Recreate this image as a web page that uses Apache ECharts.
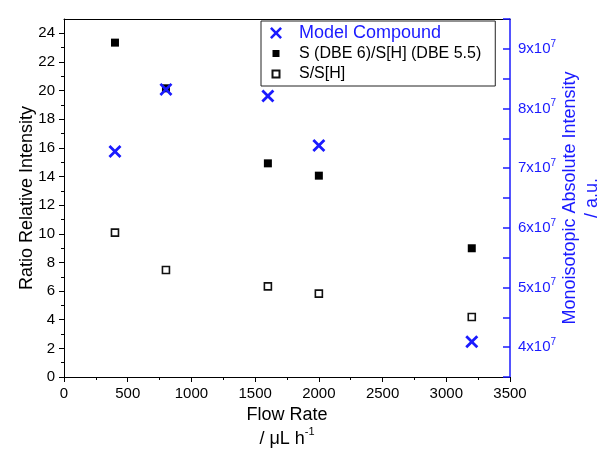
<!DOCTYPE html>
<html>
<head>
<meta charset="utf-8">
<script src="https://cdn.jsdelivr.net/npm/echarts@6/dist/echarts.min.js"></script>
<style>
  html, body { margin: 0; padding: 0; background: #fff; }
  #chart { width: 602px; height: 454px; }
</style>
</head>
<body>
<div id="chart"></div>
<script>
// values
const flowRate = [400, 800, 1600, 2000, 3200];
const modelCompound = [7.28e7, 8.32e7, 8.21e7, 7.38e7, 4.09e7];
const ratioDbe = [23.35, 20.16, 14.92, 14.06, 8.99];
const ratioSSH = [10.08, 7.47, 6.33, 5.82, 4.19];

const seriesNames = ['Model Compound', 'S (DBE 6)/S[H] (DBE 5.5)', 'S/S[H]'];
const leftTicks = [0, 2, 4, 6, 8, 10, 12, 14, 16, 18, 20, 22, 24];

const FONT = '"Liberation Sans", Arial, sans-serif';
const BLUE = '#1a1aff';

const crossPath = 'path://M0,1.5L1.5,0L5,3.5L8.5,0L10,1.5L6.5,5L10,8.5L8.5,10L5,6.5L1.5,10L0,8.5L3.5,5Z';
// square with padding inside the icon box so it looks smaller in the legend
const smallSquare = 'path://M0,0M12,12M2.5,2.5L9.5,2.5L9.5,9.5L2.5,9.5Z';

const pairs = (ys) => flowRate.map((x, i) => [x, ys[i]]);

const chart = echarts.init(document.getElementById('chart'));

chart.setOption({
  animation: false,
  backgroundColor: '#fff',
  textStyle: { fontFamily: FONT },
  grid: { left: 64, right: 92, top: 19, bottom: 77, outerBoundsMode: 'none', containLabel: false },
  legend: {
    left: 261,
    top: 21,
    orient: 'vertical',
    borderColor: '#222',
    borderWidth: 1,
    padding: [3, 14, 3, 8],
    itemGap: 2.5,
    itemWidth: 12,
    itemHeight: 12,
    textStyle: { fontFamily: FONT, fontSize: 16, color: '#000', lineHeight: 18, padding: [0, 0, 0, 12] },
    data: [
      { name: seriesNames[0], icon: crossPath, textStyle: { color: BLUE, fontSize: 18 } },
      { name: seriesNames[1], icon: smallSquare },
      { name: seriesNames[2], icon: smallSquare }
    ]
  },
  xAxis: [
    {
      type: 'value',
      min: 0,
      max: 3500,
      interval: 500,
      name: '{t|Flow Rate}\n{u|/ μL h}{s|-1}',
      nameLocation: 'middle',
      nameGap: 24,
      nameTextStyle: {
        rich: {
          t: { fontFamily: FONT, fontSize: 18, color: '#000', lineHeight: 24 },
          u: { fontFamily: FONT, fontSize: 18, color: '#000', lineHeight: 24, verticalAlign: 'middle' },
          s: { fontFamily: FONT, fontSize: 11, color: '#000', lineHeight: 14, verticalAlign: 'top' }
        }
      },
      axisLine: { show: true, onZero: false, lineStyle: { color: '#000', width: 1 } },
      axisTick: { show: true, inside: false, length: 5, lineStyle: { color: '#000' } },
      minorTick: { show: true, splitNumber: 2, length: 3, lineStyle: { color: '#000' } },
      axisLabel: { fontFamily: FONT, fontSize: 15, color: '#000', margin: 9, formatter: (v) => String(v) },
      splitLine: { show: false }
    },
    {
      type: 'value',
      position: 'top',
      min: 0,
      max: 3500,
      axisLine: { show: true, onZero: false, lineStyle: { color: '#000', width: 1 } },
      axisTick: { show: false },
      axisLabel: { show: false },
      splitLine: { show: false }
    }
  ],
  yAxis: [
    {
      type: 'value',
      position: 'left',
      min: 0,
      max: 25,
      interval: 2,
      name: 'Ratio Relative Intensity',
      nameLocation: 'middle',
      nameGap: 28,
      nameMoveOverlap: false,
      nameTextStyle: { fontFamily: FONT, fontSize: 18, color: '#000' },
      axisLine: { show: true, onZero: false, lineStyle: { color: '#000', width: 1 } },
      axisTick: { show: true, inside: false, length: 5, customValues: leftTicks, lineStyle: { color: '#000' } },
      minorTick: { show: true, splitNumber: 2, length: 3, lineStyle: { color: '#000' } },
      axisLabel: { fontFamily: FONT, fontSize: 15, color: '#000', margin: 9, customValues: leftTicks },
      splitLine: { show: false }
    },
    {
      type: 'value',
      position: 'right',
      min: 3.5e7,
      max: 9.5e7,
      interval: 0.5e7,
      name: 'Monoisotopic Absolute Intensity\n/ a.u.',
      nameLocation: 'middle',
      nameGap: 49,
      nameMoveOverlap: false,
      nameTextStyle: { fontFamily: FONT, fontSize: 18, color: BLUE, lineHeight: 22, align: 'center' },
      axisLine: { show: true, onZero: false, lineStyle: { color: BLUE, width: 1.5 } },
      axisTick: { show: true, inside: true, length: 7, lineStyle: { color: BLUE, width: 1.5 } },
      axisLabel: {
        margin: 8,
        formatter: (v) => {
          const n = Math.round(v / 1e6);
          if (n % 10 !== 0) return '';
          return '{b|' + (n / 10) + 'x10}{s|7}';
        },
        rich: {
          b: { fontFamily: FONT, fontSize: 15, color: BLUE, lineHeight: 20, verticalAlign: 'middle' },
          s: { fontFamily: FONT, fontSize: 10, color: BLUE, lineHeight: 12, verticalAlign: 'top' }
        }
      },
      splitLine: { show: false }
    }
  ],
  series: [
    {
      name: seriesNames[1],
      type: 'scatter',
      xAxisIndex: 0,
      yAxisIndex: 0,
      symbol: 'rect',
      symbolSize: 8,
      itemStyle: { color: '#000', opacity: 1 },
      data: pairs(ratioDbe),
      z: 2
    },
    {
      name: seriesNames[2],
      type: 'scatter',
      xAxisIndex: 0,
      yAxisIndex: 0,
      symbol: 'rect',
      symbolSize: 7,
      itemStyle: { color: '#fff', borderColor: '#111', borderWidth: 1.6, opacity: 1 },
      data: pairs(ratioSSH),
      z: 2
    },
    {
      name: seriesNames[0],
      type: 'scatter',
      xAxisIndex: 0,
      yAxisIndex: 1,
      symbol: crossPath,
      symbolSize: 13,
      itemStyle: { color: BLUE, opacity: 1 },
      data: pairs(modelCompound),
      z: 3
    }
  ]
});
</script>
</body>
</html>
